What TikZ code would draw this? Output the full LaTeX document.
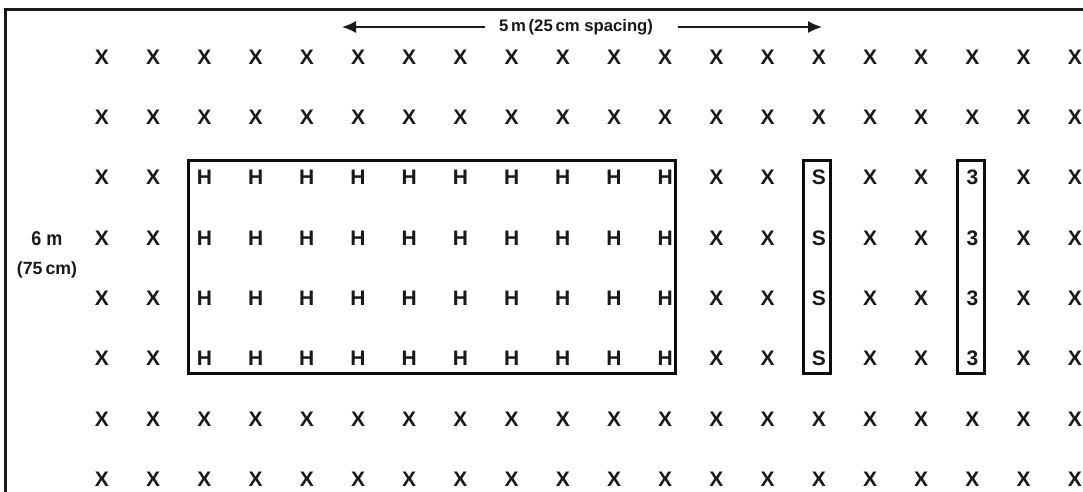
\documentclass[tikz,border=0pt]{standalone}
\usepackage{fontspec}
\setmainfont{Liberation Sans}
\usetikzlibrary{arrows.meta,calc}
\tikzset{
  cell/.style={font=\fontsize{21}{21}\selectfont\bfseries, inner sep=0pt, text=black!90},
  frame/.style={line width=3pt, black!90},
  plotbox/.style={line width=3pt, black!95},
  dim/.style={line width=1.5pt, black!90, -{Latex[length=14pt,width=12pt]}},
  lbl/.style={font=\fontsize{20}{20}\selectfont, inner sep=0pt, text=black!90},
}
\begin{document}
\begin{tikzpicture}[x=1pt,y=-1pt]
\useasboundingbox (0,0) rectangle (1083,492);
% frame (only top and left visible)
\draw[frame] (1090,10) -- (5,10) -- (5,500);
% grid
\foreach \r in {1,...,8}{
  \foreach \c in {1,...,20}{
    \pgfmathsetmacro{\xx}{102+51.2*(\c-1)}
    \pgfmathsetmacro{\yy}{57+60.3*(\r-1)}
    \def\t{X}
    \ifnum\r>2 \ifnum\r<7
      \ifnum\c>2 \ifnum\c<13 \def\t{H}\fi\fi
      \ifnum\c=15 \def\t{S}\fi
      \ifnum\c=18 \def\t{3}\fi
    \fi\fi
    \node[cell] (c-\r-\c) at (\xx,\yy) {\t};
  }
}
% boxes
\draw[plotbox] ($(c-3-3)+(-16,-17)$) rectangle ($(c-6-12)+(10,14.5)$);
\draw[plotbox] ($(c-3-15)+(-15,-17)$) rectangle ($(c-6-15)+(12,14.5)$);
\draw[plotbox] ($(c-3-18)+(-15,-17)$) rectangle ($(c-6-18)+(12,14.5)$);
% dimension label
\node[lbl] (dimtxt) at (576,27) {\resizebox{154pt}{!}{\bfseries 5\,m\,(25\,cm spacing)}};
\coordinate (ltip) at (342,27);
\coordinate (rtip) at (822,27);
\draw[dim] ([xshift=-14pt]dimtxt.west) -- (ltip);
\draw[dim] ([xshift=25pt]dimtxt.east) -- (rtip);
% side label
\node[lbl,font=\fontsize{20}{20}\selectfont\bfseries] (six) at (47,239) {\scalebox{0.9}[1]{6 m}};
\node[lbl] (seventyfive) at (47,270) {\resizebox{60pt}{!}{\bfseries (75\,cm)}};
\end{tikzpicture}
\end{document}
